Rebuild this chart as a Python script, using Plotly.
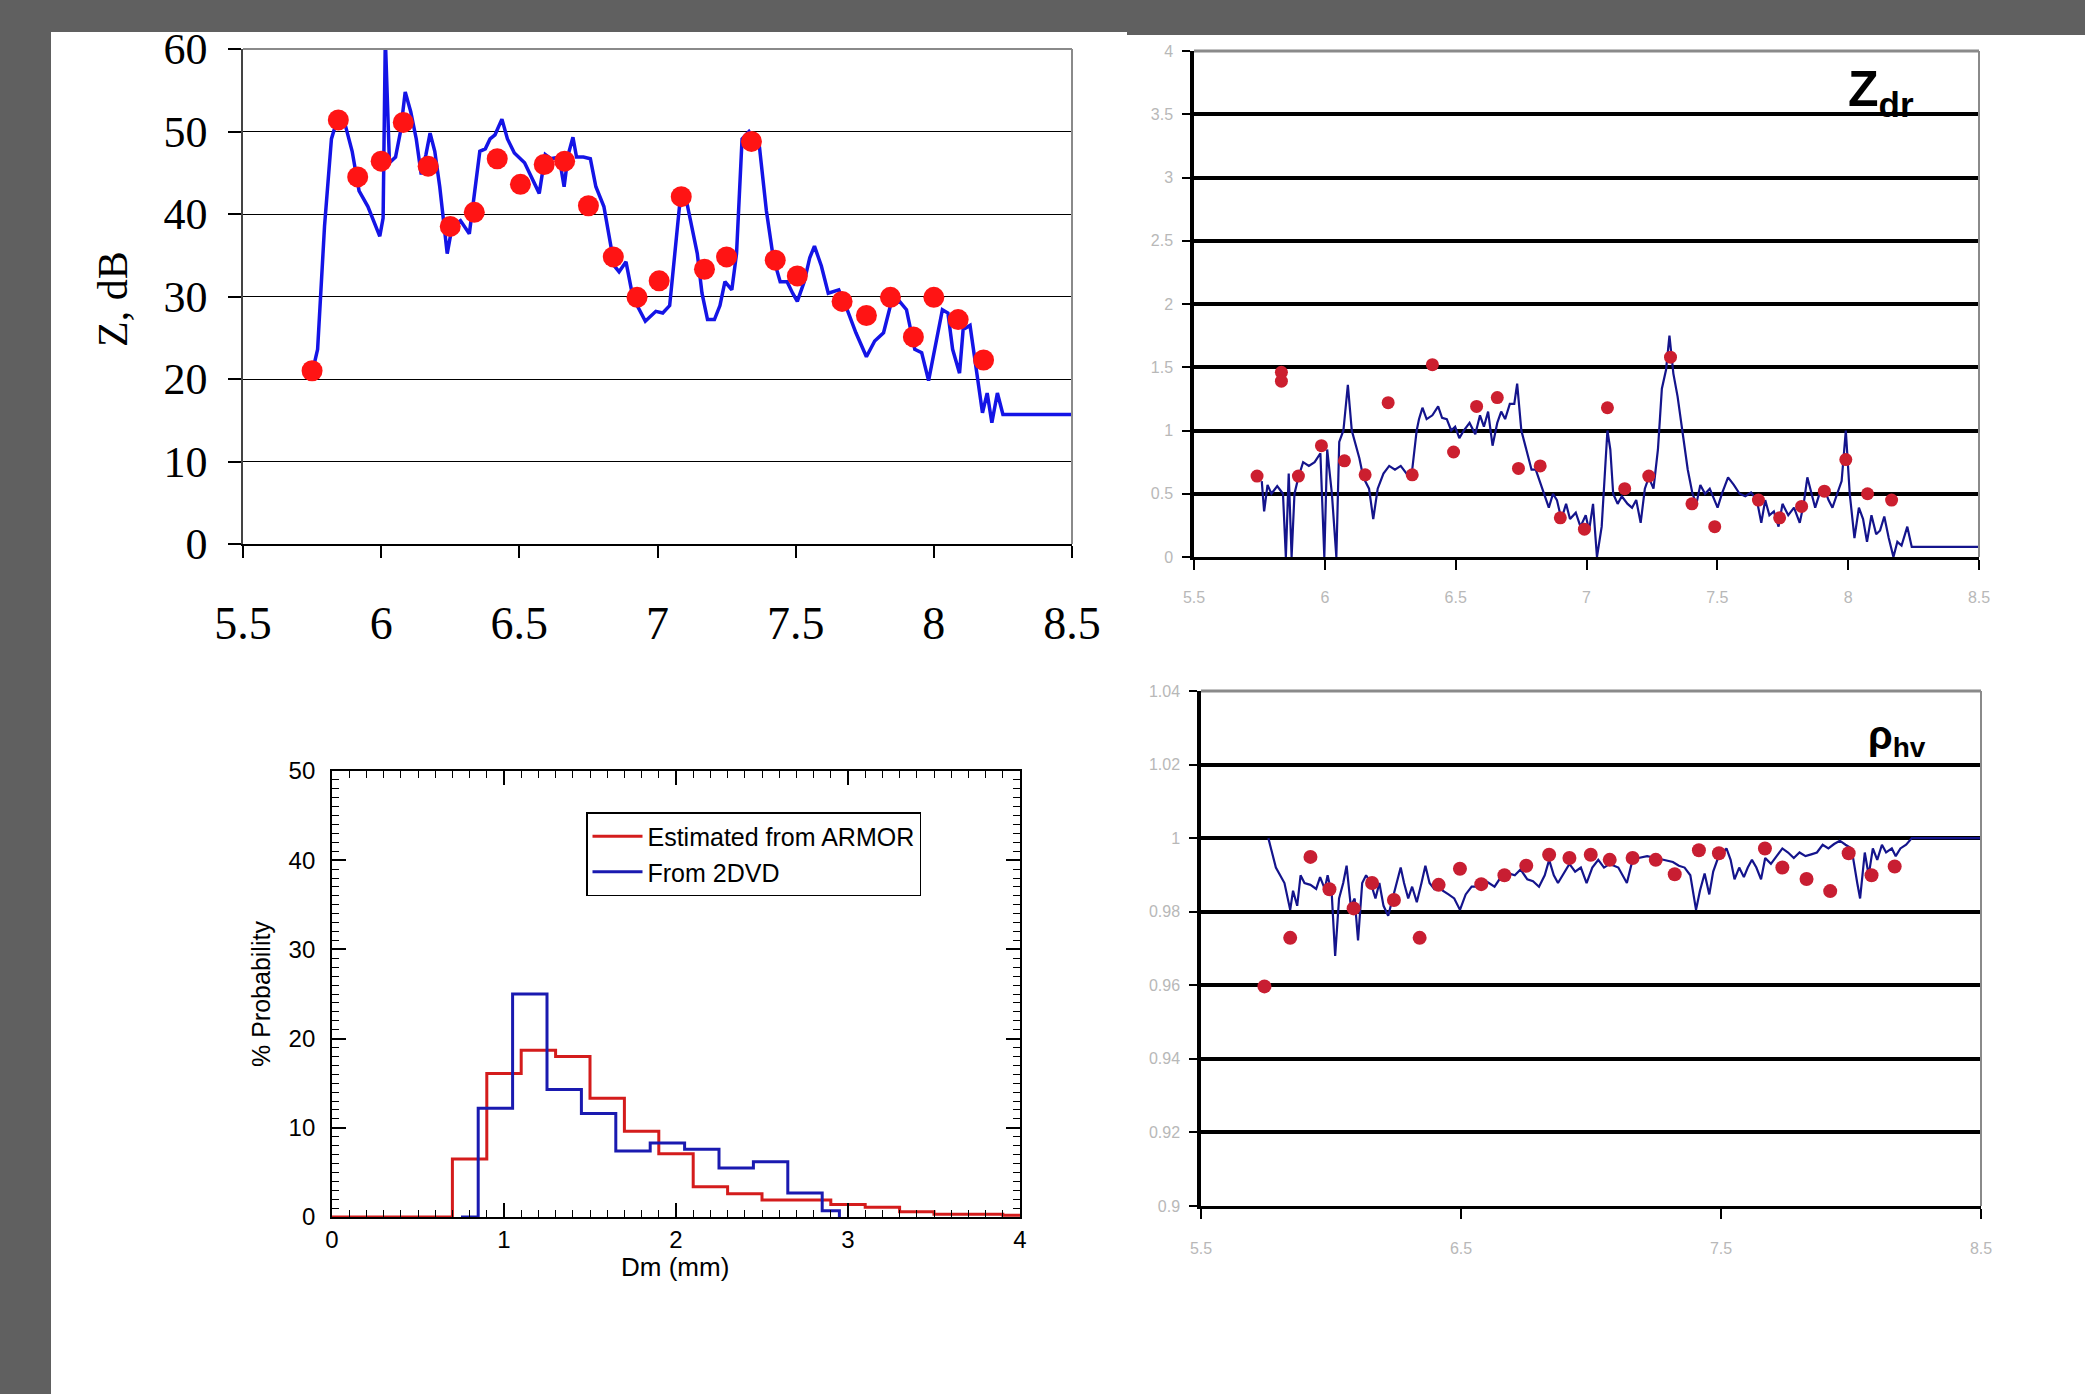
import plotly.graph_objects as go

# ---------------- Data ----------------
# Panel 1: Z (dB) vs time
z_line_x = [5.752, 5.770, 5.795, 5.820, 5.837, 5.870, 5.895, 5.920, 5.952, 5.970, 5.995, 6.007, 6.015, 6.030,
            6.052, 6.070, 6.087, 6.107, 6.127, 6.145, 6.162, 6.177, 6.194, 6.212, 6.232, 6.239, 6.257, 6.287,
            6.319, 6.339, 6.357, 6.377, 6.394, 6.412, 6.437, 6.457, 6.482, 6.519, 6.552, 6.572, 6.594, 6.614,
            6.644, 6.662, 6.677, 6.694, 6.707, 6.732, 6.757, 6.777, 6.806, 6.826, 6.844, 6.861, 6.886, 6.911,
            6.936, 6.956, 6.994, 7.019, 7.044, 7.061, 7.081, 7.106, 7.144, 7.161, 7.181, 7.206, 7.226, 7.244,
            7.269, 7.286, 7.306, 7.331, 7.369, 7.394, 7.419, 7.444, 7.469, 7.489, 7.506, 7.531, 7.551, 7.568,
            7.593, 7.618, 7.656, 7.681, 7.718, 7.756, 7.786, 7.818, 7.843, 7.876, 7.901, 7.931, 7.956, 7.981,
            8.006, 8.031, 8.051, 8.068, 8.093, 8.106, 8.131, 8.156, 8.176, 8.193, 8.210, 8.230, 8.250, 8.280,
            8.550]
z_line_y = [21.0, 23.6, 38.5, 49.1, 51.0, 50.8, 47.6, 42.8, 40.9, 39.5, 37.3, 39.5, 61.3, 46.2,
            46.9, 50.0, 54.8, 52.4, 49.1, 44.8, 47.2, 49.8, 47.6, 43.3, 37.6, 35.2, 38.5, 39.2,
            37.6, 42.8, 47.6, 47.9, 49.1, 49.6, 51.5, 49.1, 47.4, 46.2, 43.8, 42.5, 47.2, 46.7,
            46.9, 43.3, 47.2, 49.3, 46.9, 46.9, 46.7, 43.3, 40.9, 37.1, 33.7, 33.0, 34.2, 29.9,
            28.2, 27.0, 28.2, 28.0, 28.9, 34.7, 41.4, 41.4, 35.2, 30.4, 27.2, 27.2, 28.9, 31.8,
            30.8, 35.2, 49.1, 50.0, 48.1, 40.4, 34.7, 31.8, 31.8, 30.4, 29.4, 31.8, 34.7, 36.1,
            33.7, 30.4, 30.8, 28.9, 25.6, 22.7, 24.6, 25.6, 28.9, 29.4, 28.4, 23.6, 23.2, 19.8,
            24.1, 28.4, 28.0, 23.6, 20.7, 26.0, 26.5, 20.3, 15.9, 18.3, 14.7, 18.3, 15.7, 15.7,
            15.7]
z_dot_x = [5.750, 5.845, 5.915, 6.000, 6.080, 6.170, 6.250, 6.337, 6.420, 6.504, 6.590, 6.664, 6.750, 6.840,
           6.926, 7.006, 7.086, 7.170, 7.250, 7.340, 7.426, 7.506, 7.668, 7.756, 7.843, 7.926, 8.000, 8.088,
           8.180]
z_dot_y = [21.0, 51.4, 44.5, 46.4, 51.1, 45.8, 38.5, 40.2, 46.7, 43.6, 46.0, 46.4, 41.0, 34.8,
           29.9, 31.9, 42.1, 33.3, 34.8, 48.8, 34.4, 32.5, 29.4, 27.7, 29.9, 25.1, 29.9, 27.2,
           22.3]

# Panel 2: Zdr
zdr_line_x = [5.759, 5.768, 5.781, 5.796, 5.818, 5.840, 5.851, 5.862, 5.873, 5.884, 5.899, 5.917, 5.939, 5.961,
              5.983, 5.998, 6.009, 6.027, 6.044, 6.055, 6.071, 6.088, 6.103, 6.119, 6.132, 6.147, 6.169, 6.185,
              6.202, 6.224, 6.246, 6.268, 6.290, 6.312, 6.334, 6.351, 6.360, 6.373, 6.389, 6.411, 6.433, 6.448,
              6.466, 6.483, 6.498, 6.514, 6.531, 6.553, 6.575, 6.593, 6.608, 6.624, 6.641, 6.659, 6.674, 6.689,
              6.707, 6.724, 6.735, 6.751, 6.773, 6.790, 6.806, 6.821, 6.839, 6.856, 6.872, 6.887, 6.904, 6.922,
              6.937, 6.959, 6.977, 6.997, 7.010, 7.025, 7.040, 7.058, 7.071, 7.080, 7.091, 7.102, 7.119, 7.135,
              7.157, 7.174, 7.190, 7.207, 7.223, 7.238, 7.256, 7.273, 7.288, 7.304, 7.317, 7.332, 7.348, 7.365,
              7.387, 7.405, 7.420, 7.435, 7.453, 7.471, 7.486, 7.501, 7.519, 7.541, 7.563, 7.585, 7.607, 7.629,
              7.651, 7.668, 7.683, 7.699, 7.716, 7.734, 7.749, 7.771, 7.793, 7.815, 7.830, 7.844, 7.859, 7.874,
              7.892, 7.909, 7.925, 7.940, 7.958, 7.975, 7.991, 8.006, 8.024, 8.041, 8.057, 8.072, 8.089, 8.107,
              8.122, 8.138, 8.155, 8.173, 8.188, 8.204, 8.226, 8.243, 8.506]
zdr_line_y = [0.60, 0.36, 0.57, 0.50, 0.56, 0.50, 0.0, 0.66, 0.0, 0.50, 0.63, 0.75, 0.72, 0.75,
              0.82, 0.0, 0.85, 0.50, 0.0, 0.91, 1.00, 1.36, 1.00, 0.88, 0.78, 0.63, 0.54, 0.30,
              0.54, 0.66, 0.72, 0.69, 0.72, 0.66, 0.69, 1.00, 1.09, 1.18, 1.09, 1.12, 1.19, 1.10,
              1.09, 1.00, 1.03, 0.94, 1.00, 1.06, 0.97, 1.12, 1.03, 1.15, 0.88, 1.06, 1.15, 1.09,
              1.21, 1.21, 1.37, 1.00, 0.82, 0.69, 0.69, 0.60, 0.50, 0.39, 0.50, 0.45, 0.30, 0.42,
              0.30, 0.35, 0.24, 0.33, 0.21, 0.42, 0.0, 0.24, 0.69, 1.00, 0.85, 0.50, 0.42, 0.48,
              0.42, 0.39, 0.45, 0.27, 0.54, 0.63, 0.54, 0.85, 1.33, 1.48, 1.75, 1.45, 1.27, 1.03,
              0.69, 0.50, 0.42, 0.57, 0.50, 0.54, 0.47, 0.39, 0.51, 0.63, 0.57, 0.50, 0.48, 0.51,
              0.45, 0.27, 0.45, 0.33, 0.36, 0.24, 0.42, 0.33, 0.39, 0.27, 0.42, 0.63, 0.51, 0.39,
              0.51, 0.54, 0.45, 0.39, 0.50, 0.60, 1.00, 0.50, 0.15, 0.39, 0.30, 0.12, 0.33, 0.18,
              0.21, 0.32, 0.15, 0.0, 0.12, 0.09, 0.24, 0.08, 0.08]
zdr_dot_x = [5.741, 5.834, 5.834, 5.899, 5.987, 6.075, 6.154, 6.242, 6.334, 6.411, 6.492, 6.580, 6.659, 6.740,
             6.823, 6.900, 6.992, 7.080, 7.146, 7.238, 7.321, 7.403, 7.490, 7.657, 7.738, 7.822, 7.909, 7.991,
             8.074, 8.166]
zdr_dot_y = [0.64, 1.46, 1.39, 0.64, 0.88, 0.76, 0.65, 1.22, 0.65, 1.52, 0.83, 1.19, 1.26, 0.70,
             0.72, 0.31, 0.22, 1.18, 0.54, 0.64, 1.58, 0.42, 0.24, 0.45, 0.31, 0.40, 0.52, 0.77,
             0.50, 0.45]

# Panel 3: Dm histogram (% probability)
armor_edges = [0.0, 0.7, 0.9, 1.1, 1.3, 1.5, 1.7, 1.9, 2.1, 2.3, 2.5, 2.7, 2.9, 3.1, 3.3, 3.5, 3.7, 3.9, 4.0]
armor_pct = [0.0, 6.5, 16.1, 18.7, 18.0, 13.3, 9.6, 7.1, 3.4, 2.6, 1.9, 1.9, 1.4, 1.1, 0.6, 0.3, 0.3, 0.2]
dvd_edges = [0.75, 0.85, 1.05, 1.25, 1.45, 1.65, 1.85, 2.05, 2.25, 2.45, 2.65, 2.85, 2.95]
dvd_pct = [0.0, 12.2, 25.0, 14.3, 11.6, 7.4, 8.3, 7.6, 5.5, 6.2, 2.7, 0.7]

# Panel 4: rho_hv
rho_line_x = [5.759, 5.788, 5.821, 5.843, 5.854, 5.870, 5.883, 5.898, 5.921, 5.943, 5.958, 5.976, 5.987, 6.003,
              6.016, 6.031, 6.047, 6.060, 6.076, 6.091, 6.104, 6.120, 6.135, 6.153, 6.171, 6.186, 6.202, 6.220,
              6.237, 6.253, 6.268, 6.281, 6.297, 6.312, 6.330, 6.348, 6.363, 6.379, 6.397, 6.414, 6.430, 6.452,
              6.474, 6.496, 6.518, 6.541, 6.563, 6.596, 6.629, 6.658, 6.684, 6.707, 6.729, 6.755, 6.777, 6.800,
              6.822, 6.839, 6.857, 6.873, 6.895, 6.917, 6.939, 6.961, 6.983, 7.005, 7.028, 7.050, 7.072, 7.105,
              7.138, 7.156, 7.183, 7.216, 7.249, 7.282, 7.315, 7.338, 7.360, 7.382, 7.404, 7.419, 7.437, 7.455,
              7.470, 7.486, 7.504, 7.521, 7.537, 7.552, 7.570, 7.588, 7.603, 7.619, 7.636, 7.654, 7.670, 7.692,
              7.714, 7.736, 7.758, 7.780, 7.802, 7.825, 7.847, 7.869, 7.891, 7.913, 7.935, 7.957, 7.979, 8.002,
              8.024, 8.035, 8.053, 8.068, 8.084, 8.101, 8.119, 8.135, 8.157, 8.172, 8.190, 8.212, 8.234, 8.522]
rho_line_y = [1.0, 0.9920, 0.9878, 0.9805, 0.9857, 0.9816, 0.9899, 0.9878, 0.9873, 0.9862, 0.9894, 0.9862, 0.9899, 0.9847,
              0.9680, 0.9836, 0.9878, 0.9925, 0.9816, 0.9836, 0.9722, 0.9878, 0.9899, 0.9878, 0.9836, 0.9878, 0.9816, 0.9789,
              0.9836, 0.9878, 0.9920, 0.9878, 0.9836, 0.9868, 0.9826, 0.9878, 0.9925, 0.9878, 0.9862, 0.9878, 0.9857, 0.9847,
              0.9836, 0.9805, 0.9847, 0.9868, 0.9868, 0.9883, 0.9868, 0.9899, 0.9904, 0.9899, 0.9915, 0.9888, 0.9883, 0.9868,
              0.9899, 0.9941, 0.9899, 0.9878, 0.9904, 0.9930, 0.9909, 0.9920, 0.9878, 0.9920, 0.9941, 0.9920, 0.9930, 0.9920,
              0.9878, 0.9930, 0.9946, 0.9951, 0.9946, 0.9941, 0.9935, 0.9925, 0.9920, 0.9899, 0.9805, 0.9857, 0.9904, 0.9847,
              0.9909, 0.9941, 0.9956, 0.9972, 0.9941, 0.9888, 0.9920, 0.9894, 0.9920, 0.9941, 0.9920, 0.9888, 0.9946, 0.9930,
              0.9951, 0.9972, 0.9961, 0.9946, 0.9961, 0.9951, 0.9956, 0.9961, 0.9982, 0.9972, 0.9984, 0.9993, 0.9982, 0.9972,
              0.9878, 0.9836, 0.9961, 0.9899, 0.9972, 0.9941, 0.9982, 0.9961, 0.9972, 0.9951, 0.9972, 0.9982, 1.0, 1.0]
rho_dot_x = [5.744, 5.843, 5.921, 5.994, 6.087, 6.158, 6.242, 6.341, 6.414, 6.496, 6.578, 6.667, 6.751, 6.839,
             6.917, 6.999, 7.072, 7.160, 7.249, 7.322, 7.415, 7.492, 7.669, 7.736, 7.829, 7.920, 7.991, 8.079,
             8.168]
rho_dot_y = [0.9597, 0.9729, 0.9949, 0.9861, 0.9809, 0.9878, 0.9832, 0.9729, 0.9873, 0.9917, 0.9875, 0.9899, 0.9925, 0.9955,
             0.9946, 0.9955, 0.9941, 0.9946, 0.9941, 0.9902, 0.9967, 0.9959, 0.9972, 0.9920, 0.9889, 0.9856, 0.9959, 0.9899,
             0.9923]

time_ticks = [5.5, 6.0, 6.5, 7.0, 7.5, 8.0, 8.5]
rho_time_ticks = [5.5, 6.5, 7.5, 8.5]

# ---------------- Figure ----------------
W, H = 2085, 1394
fig = go.Figure()

# Panel 1
fig.add_trace(go.Scatter(x=z_line_x, y=z_line_y, mode="lines", line=dict(color="#1414e6", width=3.5),
                         showlegend=False, xaxis="x", yaxis="y"))
fig.add_trace(go.Scatter(x=z_dot_x, y=z_dot_y, mode="markers", marker=dict(color="#ff1414", size=21),
                         showlegend=False, xaxis="x", yaxis="y", cliponaxis=False))
# Panel 2
fig.add_trace(go.Scatter(x=zdr_line_x, y=zdr_line_y, mode="lines", line=dict(color="#14148c", width=2.2),
                         showlegend=False, xaxis="x2", yaxis="y2"))
fig.add_trace(go.Scatter(x=zdr_dot_x, y=zdr_dot_y, mode="markers", marker=dict(color="#cc1f2f", size=13),
                         showlegend=False, xaxis="x2", yaxis="y2"))
# Panel 3
fig.add_trace(go.Scatter(x=armor_edges, y=armor_pct + [armor_pct[-1]], mode="lines", line_shape="hv",
                         line=dict(color="#d41c1c", width=3), name="Estimated from ARMOR",
                         xaxis="x3", yaxis="y3"))
fig.add_trace(go.Scatter(x=dvd_edges, y=dvd_pct + [0.0], mode="lines", line_shape="hv",
                         line=dict(color="#1a1ab0", width=3), name="From 2DVD",
                         xaxis="x3", yaxis="y3"))
# Panel 4
fig.add_trace(go.Scatter(x=rho_line_x, y=rho_line_y, mode="lines", line=dict(color="#14148c", width=2.2),
                         showlegend=False, xaxis="x4", yaxis="y4"))
fig.add_trace(go.Scatter(x=rho_dot_x, y=rho_dot_y, mode="markers", marker=dict(color="#c81e32", size=14),
                         showlegend=False, xaxis="x4", yaxis="y4"))

def px_x(a, b):
    return [a / W, b / W]

def px_y(top, bottom):
    return [1 - bottom / H, 1 - top / H]

serif = "Liberation Serif, Times New Roman, serif"
sans = "Liberation Sans, Arial, sans-serif"
faint = "#b8b8b8"

layout = dict(
    width=W, height=H, autosize=False,
    margin=dict(l=0, r=0, t=0, b=0, pad=0),
    paper_bgcolor="white", plot_bgcolor="white",
    showlegend=True,
    # Panel 1 axes
    xaxis=dict(domain=px_x(243, 1072), range=[5.5, 8.5], tickvals=time_ticks, ticks="outside", ticklen=12,
               tickwidth=1.5, tickcolor="black", showgrid=False, zeroline=False, showline=True,
               linecolor="black", linewidth=2, tickfont=dict(family=serif, size=46, color="black"),
               ticklabelstandoff=26, anchor="y", automargin=False),
    yaxis=dict(domain=px_y(49, 544), range=[0, 60], dtick=10, ticks="outside", ticklen=13, tickwidth=1.5,
               tickcolor="black", showgrid=True, gridcolor="black", gridwidth=1.2, zeroline=False,
               showline=True, linecolor="#444444", linewidth=1.5,
               tickfont=dict(family=serif, size=44, color="black"), ticklabelstandoff=12, anchor="x",
               automargin=False),
    # Panel 2 axes
    xaxis2=dict(domain=px_x(1194, 1979), range=[5.5, 8.5], tickvals=time_ticks, ticks="outside", ticklen=10,
                tickwidth=2, tickcolor="black", showgrid=False, zeroline=False, showline=True,
                linecolor="black", linewidth=3, tickfont=dict(family=sans, size=16, color=faint),
                ticklabelstandoff=14, anchor="y2", automargin=False),
    yaxis2=dict(domain=px_y(51, 557), range=[0, 4], dtick=0.5, ticks="outside", ticklen=8, tickwidth=2,
                tickcolor="black", showgrid=True, gridcolor="black", gridwidth=3.5, zeroline=False,
                showline=True, linecolor="black", linewidth=3.5,
                tickfont=dict(family=sans, size=16, color=faint), ticklabelstandoff=6, anchor="x2",
                automargin=False),
    # Panel 3 axes
    xaxis3=dict(domain=px_x(332, 1020), range=[0, 4], dtick=1, ticks="inside", ticklen=14, tickwidth=1.5,
                tickcolor="black", mirror="allticks", showgrid=False, zeroline=False, showline=True,
                linecolor="black", linewidth=1.8, tickfont=dict(family=sans, size=24, color="black"),
                ticklabelstandoff=0,
                minor=dict(dtick=0.1, ticks="inside", ticklen=7, tickwidth=1.2, tickcolor="black"),
                anchor="y3", automargin=False),
    yaxis3=dict(domain=px_y(771, 1217), range=[0, 50], dtick=10, ticks="inside", ticklen=14, tickwidth=1.5,
                tickcolor="black", mirror="allticks", showgrid=False, zeroline=False, showline=True,
                linecolor="black", linewidth=1.8, tickfont=dict(family=sans, size=24, color="black"),
                ticklabelstandoff=10,
                minor=dict(dtick=1, ticks="inside", ticklen=7, tickwidth=1.2, tickcolor="black"),
                anchor="x3", automargin=False),
    # Panel 4 axes
    xaxis4=dict(domain=px_x(1201, 1981), range=[5.5, 8.5], tickvals=rho_time_ticks, ticks="outside",
                ticklen=10, tickwidth=2, tickcolor="black", showgrid=False, zeroline=False, showline=True,
                linecolor="black", linewidth=3, tickfont=dict(family=sans, size=16, color=faint),
                ticklabelstandoff=16, anchor="y4", automargin=False),
    yaxis4=dict(domain=px_y(691, 1206), range=[0.9, 1.04], dtick=0.02, ticks="outside", ticklen=8,
                tickwidth=2, tickcolor="black", showgrid=True, gridcolor="black", gridwidth=3.5,
                zeroline=False, showline=True, linecolor="black", linewidth=3.5,
                tickfont=dict(family=sans, size=16, color=faint), ticklabelstandoff=6, anchor="x4",
                automargin=False),
    legend=dict(x=586 / W, y=1 - 812 / H, xanchor="left", yanchor="top", bgcolor="white",
                bordercolor="black", borderwidth=1.5, font=dict(family=sans, size=25, color="black"),
                tracegroupgap=0, itemwidth=50),
)
fig.update_layout(**layout)

# Background dark frame
shapes = [
    dict(type="rect", xref="paper", yref="paper", x0=0, x1=51 / W, y0=0, y1=1,
         fillcolor="#606060", line=dict(width=0), layer="below"),
    dict(type="rect", xref="paper", yref="paper", x0=0, x1=1127 / W, y0=1 - 32 / H, y1=1,
         fillcolor="#606060", line=dict(width=0), layer="below"),
    dict(type="rect", xref="paper", yref="paper", x0=1127 / W, x1=1, y0=1 - 35 / H, y1=1,
         fillcolor="#606060", line=dict(width=0), layer="below"),
]
# Gray top/right frame lines for the three time-series panels
for xa, ya, w in [("x", "y", 2), ("x2", "y2", 3), ("x4", "y4", 3)]:
    shapes.append(dict(type="line", xref=f"{xa} domain", yref=f"{ya} domain", x0=0, x1=1, y0=1, y1=1,
                       line=dict(color="#8a8a8a", width=w), layer="above"))
    shapes.append(dict(type="line", xref=f"{xa} domain", yref=f"{ya} domain", x0=1, x1=1, y0=0, y1=1,
                       line=dict(color="#8a8a8a", width=2), layer="above"))
fig.update_layout(shapes=shapes)

annotations = [
    dict(text="Z, dB", xref="paper", yref="paper", x=113 / W, y=1 - 299 / H, showarrow=False,
         xanchor="center", yanchor="middle",
         textangle=-90, font=dict(family=serif, size=42, color="black")),
    dict(text="<b>Z<sub>dr</sub></b>", xref="paper", yref="paper", x=1846 / W, y=1 - 92 / H, xanchor="left",
         yanchor="middle", showarrow=False, font=dict(family=sans, size=50, color="black")),
    dict(text="<b>ρ<sub>hv</sub></b>", xref="paper", yref="paper", x=1866 / W, y=1 - 738 / H, xanchor="left",
         yanchor="middle", showarrow=False, font=dict(family=sans, size=40, color="black")),
    dict(text="Dm (mm)", xref="paper", yref="paper", x=675 / W, y=1 - 1267 / H, showarrow=False,
         xanchor="center", yanchor="middle", font=dict(family=sans, size=26, color="black")),
    dict(text="% Probability", xref="paper", yref="paper", x=261 / W, y=1 - 994 / H, showarrow=False,
         xanchor="center", yanchor="middle",
         textangle=-90, font=dict(family=sans, size=25, color="black")),
]
fig.update_layout(annotations=annotations)

fig.write_html("out.html",
               config={"displayModeBar": False},
               post_script="document.body.style.margin='0';document.body.style.padding='0';"
                           "document.body.style.overflow='hidden';")
